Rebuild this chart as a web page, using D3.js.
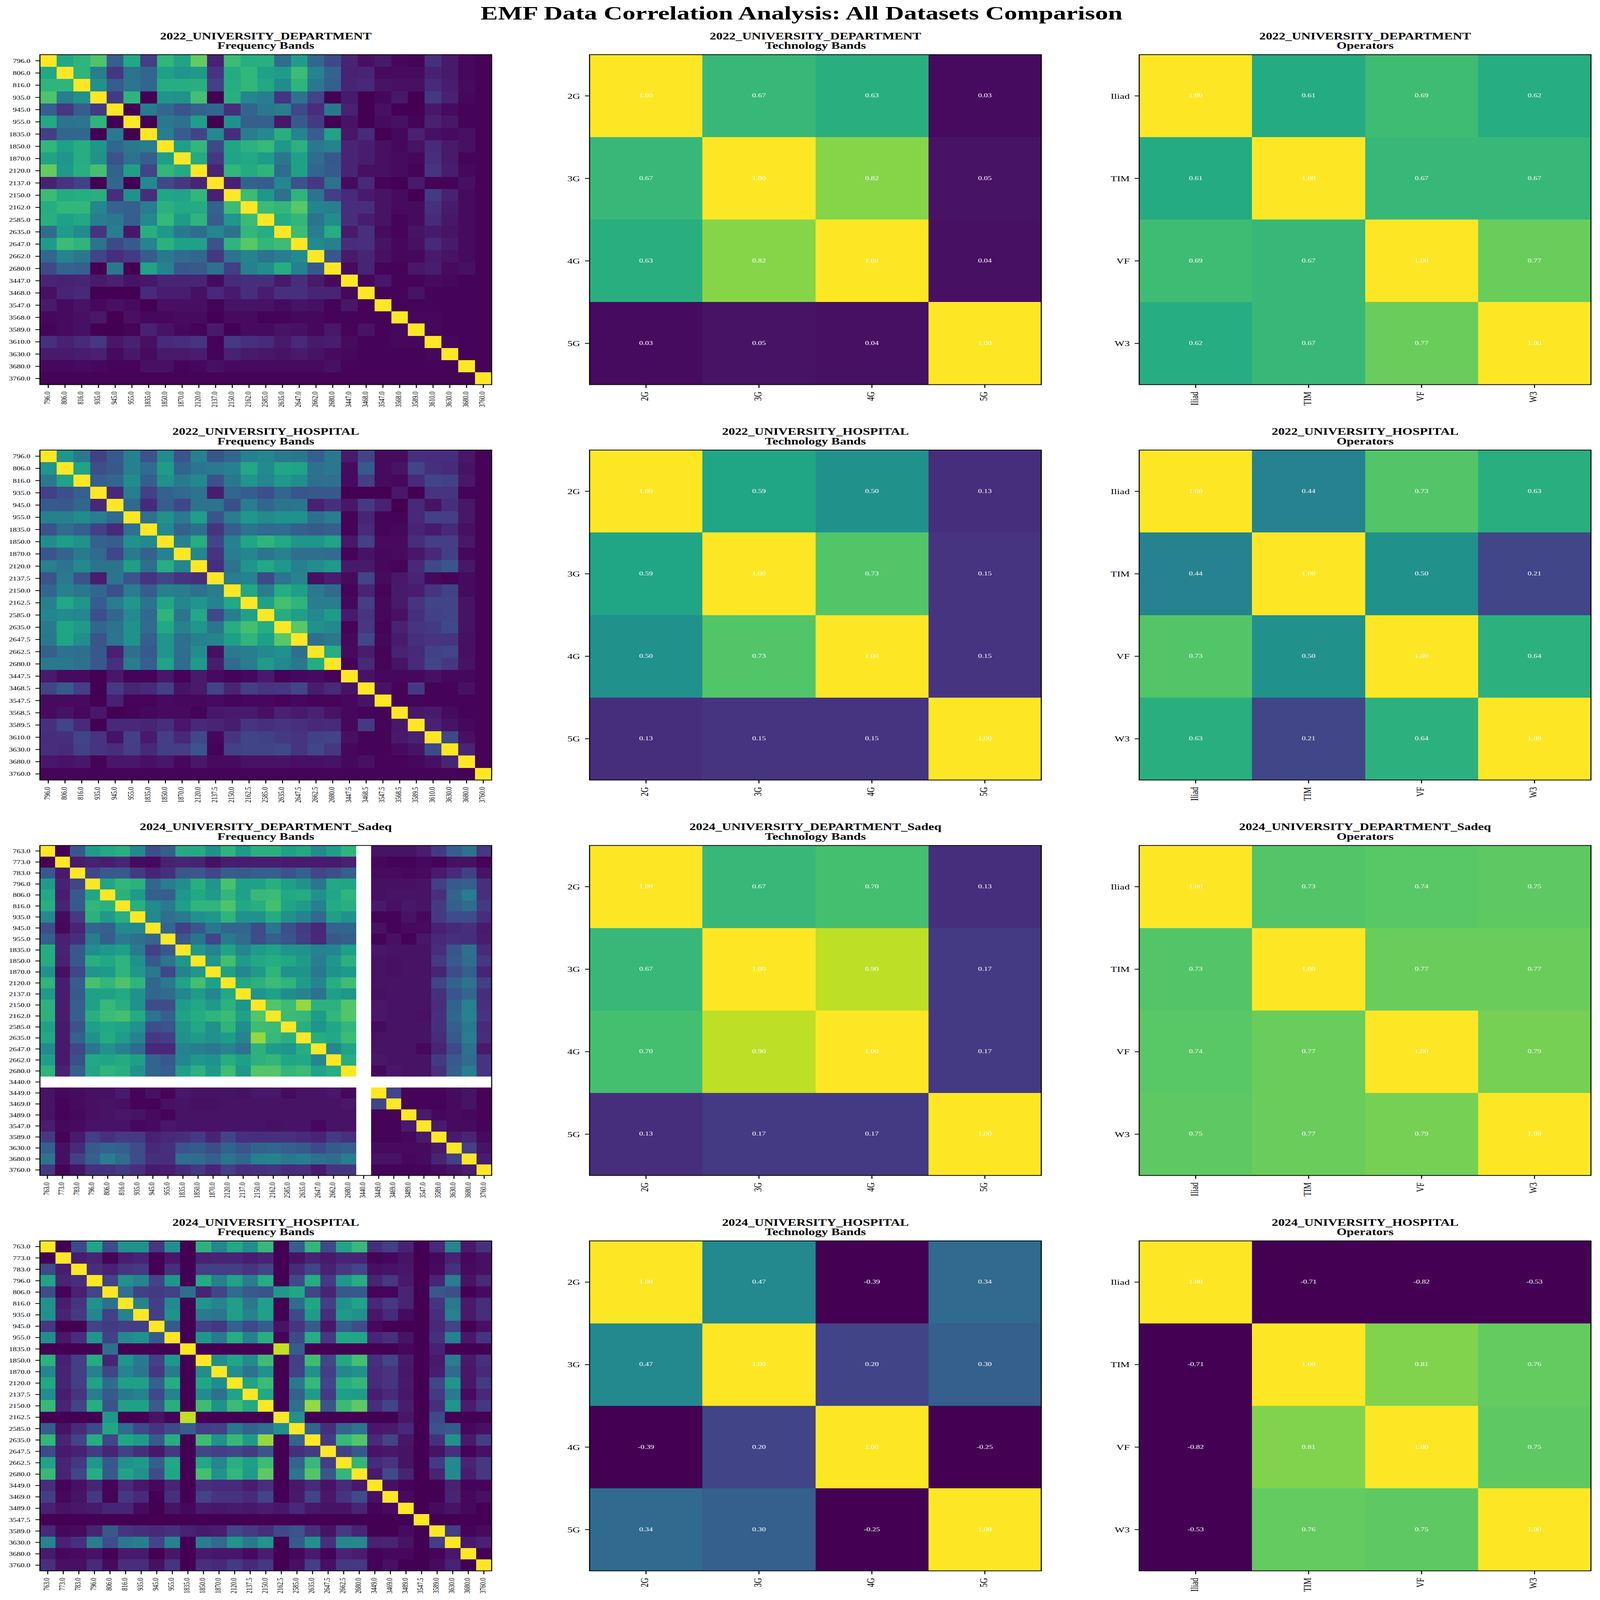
<!DOCTYPE html>
<html>
<head>
<meta charset="utf-8">
<title>EMF Data Correlation Analysis</title>
<script src="https://cdn.jsdelivr.net/npm/d3@7"></script>
<style>
  html, body { margin: 0; padding: 0; background: #fff; overflow: hidden; }
  text { font-family: "Liberation Serif", serif; }
</style>
</head>
<body>
<div id="chart"></div>
<script>
const figTitle = "EMF Data Correlation Analysis: All Datasets Comparison";
const datasets = ["2022_UNIVERSITY_DEPARTMENT", "2022_UNIVERSITY_HOSPITAL", "2024_UNIVERSITY_DEPARTMENT_Sadeq", "2024_UNIVERSITY_HOSPITAL"];
const techLabels = ["2G", "3G", "4G", "5G"];
const opLabels = ["Iliad", "TIM", "VF", "W3"];
// band with no data at all, its whole row and column stay white
const blankBands = ["3440.0"];

const freqLabels2022Dept = ["796.0","806.0","816.0","935.0","945.0","955.0","1835.0","1850.0","1870.0","2120.0","2137.0","2150.0","2162.0","2585.0","2635.0","2647.0","2662.0","2680.0","3447.0","3468.0","3547.0","3568.0","3589.0","3610.0","3630.0","3680.0","3760.0"];
const freqLabels2022Hosp = ["796.0","806.0","816.0","935.0","945.0","955.0","1835.0","1850.0","1870.0","2120.0","2137.5","2150.0","2162.5","2585.0","2635.0","2647.5","2662.5","2680.0","3447.5","3468.5","3547.5","3568.5","3589.5","3610.0","3630.0","3680.0","3760.0"];
const freqLabels2024Dept = ["763.0","773.0","783.0","796.0","806.0","816.0","935.0","945.0","955.0","1835.0","1850.0","1870.0","2120.0","2137.0","2150.0","2162.0","2585.0","2635.0","2647.0","2662.0","2680.0","3440.0","3449.0","3469.0","3489.0","3547.0","3589.0","3630.0","3680.0","3760.0"];
const freqLabels2024Hosp = ["763.0","773.0","783.0","796.0","806.0","816.0","935.0","945.0","955.0","1835.0","1850.0","1870.0","2120.0","2137.5","2150.0","2162.5","2585.0","2635.0","2647.5","2662.5","2680.0","3449.0","3469.0","3489.0","3547.5","3589.0","3630.0","3680.0","3760.0"];

// upper triangles only, each row starts right of the diagonal
const freq2022Dept = [
  [.60,.65,.72,.30,.60,.18,.66,.58,.76,.09,.68,.62,.63,.35,.55,.33,.22,.10,.04,.07,.02,.01,.14,.07,.02,.01],
  [.65,.42,.16,.38,.33,.57,.52,.54,.15,.61,.66,.57,.55,.68,.45,.32,.09,.10,.03,.03,.03,.09,.07,.02,.01],
  [.50,.29,.39,.33,.62,.62,.63,.19,.62,.66,.60,.48,.65,.40,.30,.10,.11,.05,.04,.04,.12,.08,.03,.01],
  [.17,.65,0,.52,.50,.70,0,.63,.46,.42,.15,.38,.20,0,.07,0,.02,.06,0,.16,.09,.02,.01],
  [0,.41,.33,.25,.31,.33,.13,.32,.40,.42,.22,.13,.40,.09,0,.04,0,0,.06,.03,.01,.01],
  [0,.40,.37,.56,0,.51,.30,.30,.06,.28,.17,0,.05,0,.03,.04,.01,.09,.06,.01,.01],
  [.42,.29,.20,.47,.13,.42,.47,.63,.45,.29,.58,.06,.12,0,.02,.09,.04,.03,.04,.01],
  [.56,.66,.22,.59,.64,.67,.53,.64,.40,.44,.10,.08,.04,.02,.05,.12,.07,.04,.01],
  [.61,.16,.58,.60,.55,.40,.57,.35,.27,.10,.08,.04,.03,.02,.13,.07,.01,.01],
  [.10,.66,.61,.65,.35,.57,.33,.28,.10,.04,.04,.03,.01,.15,.08,.02,.01],
  [.09,.31,.29,.46,.25,.16,.37,.03,.11,.01,0,.07,.01,.01,.04,.01],
  [.68,.53,.37,.65,.38,.18,.12,.07,.05,.03,0,.17,.09,.03,.01],
  [.68,.66,.74,.45,.43,.13,.13,.05,.03,.03,.14,.07,.03,.01],
  [.62,.66,.38,.49,.13,.08,.05,.01,.03,.12,.06,.03,.01],
  [.69,.42,.62,.07,.14,.03,.01,.05,.07,.05,.03,.01],
  [.48,.43,.13,.14,.05,.02,.04,.11,.07,.03,.01],
  [.27,.07,.10,.04,.02,.02,.07,.05,.03,.01],
  [.03,.10,.01,.01,.06,.08,.03,.04,.01],
  [.02,.06,.01,.01,.03,.02,.01,.01],
  [.01,.01,.05,.01,.01,.01,.01],
  [.01,.01,.01,.01,.01,.01],
  [.02,.02,.01,.01,.01],
  [.02,.01,.01,.01],
  [.02,.01,.01],
  [.01,.01],
  [.01]
];

const freq2022Hosp = [
  [.52,.40,.19,.28,.43,.25,.48,.26,.43,.26,.33,.43,.46,.41,.40,.30,.40,.07,.20,.03,.03,.14,.13,.13,.06,.01],
  [.58,.24,.27,.43,.35,.55,.32,.39,.41,.43,.60,.48,.59,.58,.37,.40,.03,.28,.03,.05,.20,.14,.12,.05,.01],
  [.30,.33,.48,.30,.50,.41,.47,.25,.40,.52,.46,.54,.49,.36,.37,.03,.18,.03,.02,.12,.20,.19,.06,.01],
  [.11,.42,.19,.31,.34,.38,.08,.33,.29,.24,.33,.26,.27,.27,0,0,0,.06,0,.15,.15,.01,.01],
  [.34,.12,.29,.21,.38,.38,.24,.42,.33,.38,.39,.09,.14,.06,.17,.09,0,.11,.05,.13,.06,.01],
  [.37,.50,.41,.56,.26,.42,.53,.48,.51,.50,.36,.42,.01,.10,.01,.01,.11,.19,.18,.06,.01],
  [.47,.31,.36,.15,.29,.38,.34,.35,.30,.28,.30,.01,.12,.01,.02,.10,.07,.11,.04,.01],
  [.44,.62,.21,.43,.59,.65,.60,.52,.52,.58,.06,.19,.03,.03,.13,.18,.18,.06,.01],
  [.46,.15,.42,.46,.39,.44,.36,.36,.35,.01,.05,.02,.03,.06,.11,.18,.02,.01],
  [.13,.37,.52,.60,.53,.43,.49,.54,.07,.07,.02,.01,.11,.22,.26,.06,.01],
  [.42,.44,.22,.39,.45,.04,.08,.03,.20,.03,.06,.10,.02,.01,.03,.01],
  [.60,.42,.62,.56,.41,.34,.01,.10,.01,.07,.08,.15,.19,.03,.01],
  [.57,.70,.65,.42,.42,.02,.18,.02,.07,.15,.20,.20,.05,.01],
  [.62,.56,.47,.55,.07,.15,.02,.04,.14,.19,.20,.05,.01],
  [.74,.51,.47,.01,.16,.01,.09,.15,.17,.22,.05,.01],
  [.36,.40,.02,.21,.02,.07,.14,.15,.15,.04,.01],
  [.62,.03,.08,.01,.09,.11,.19,.21,.04,.01],
  [.01,.11,.01,.05,.12,.20,.16,.05,.01],
  [.05,.02,.02,.02,.04,.02,.02,.01],
  [.05,.01,.17,.01,.01,.04,.01],
  [.01,.01,.01,.01,.01,.01],
  [.06,.07,.03,.01,.01],
  [.09,.05,.02,.01],
  [.22,.04,.01],
  [.10,.01],
  [.01]
];

const freq2024Dept = [
  [0,.27,.55,.60,.63,.47,.24,.30,.61,.61,.50,.65,.54,.64,.64,.57,.60,.48,.56,.65,null,.05,.05,.05,.08,.17,.30,.38,.16],
  [.07,.09,.08,.10,.03,.02,.09,.10,.09,.04,.08,.08,.08,.08,.07,.07,.07,.07,.09,null,.02,.01,.01,.02,.01,.04,.04,.01],
  [.21,.28,.28,.17,.10,.13,.27,.27,.21,.29,.28,.30,.30,.25,.31,.21,.24,.30,null,.03,.03,.02,.03,.07,.12,.19,.05],
  [.59,.66,.64,.33,.42,.49,.63,.52,.71,.57,.57,.63,.56,.50,.39,.60,.59,null,.04,.04,.04,.05,.18,.28,.30,.14],
  [.64,.54,.30,.29,.53,.60,.54,.66,.57,.67,.68,.60,.61,.50,.59,.65,null,.04,.05,.05,.05,.14,.32,.42,.14],
  [.63,.48,.41,.56,.65,.65,.72,.60,.63,.70,.58,.55,.43,.61,.63,null,.07,.04,.06,.05,.17,.30,.35,.17],
  [.47,.36,.41,.50,.53,.65,.51,.51,.61,.50,.44,.34,.56,.51,null,.01,.01,.05,.02,.17,.23,.23,.13],
  [.33,.19,.27,.40,.33,.33,.23,.39,.24,.17,.11,.32,.32,null,.04,.01,.03,.03,.09,.11,.14,.07],
  [.27,.39,.21,.41,.35,.23,.30,.26,.18,.11,.27,.29,null,.01,.04,.01,.06,.11,.14,.13,.08],
  [.53,.44,.58,.46,.55,.58,.52,.51,.44,.46,.56,null,.06,.05,.05,.05,.13,.26,.36,.12],
  [.53,.70,.55,.60,.62,.60,.54,.42,.53,.64,null,.05,.04,.05,.05,.17,.28,.35,.16],
  [.57,.46,.54,.65,.50,.51,.40,.51,.54,null,.05,.04,.05,.05,.10,.23,.30,.10],
  [.60,.64,.68,.65,.55,.45,.62,.69,null,.05,.05,.05,.05,.20,.31,.38,.18],
  [.52,.57,.49,.45,.37,.56,.53,null,.04,.05,.05,.05,.14,.26,.33,.13],
  [.73,.69,.84,.64,.64,.73,null,.06,.05,.05,.05,.13,.31,.43,.14],
  [.68,.67,.55,.66,.73,null,.06,.05,.05,.04,.14,.33,.44,.15],
  [.63,.52,.59,.66,null,.03,.05,.05,.05,.14,.30,.40,.12],
  [.62,.60,.68,null,.05,.05,.05,.05,.12,.28,.42,.13],
  [.46,.58,null,.05,.05,.05,.02,.10,.22,.37,.07],
  [.62,null,.06,.05,.05,.05,.17,.28,.35,.15],
  [null,.02,.06,.05,.05,.14,.30,.42,.15],
  [null,null,null,null,null,null,null,null],
  [.21,.01,.01,.01,.03,.05,.01],
  [.01,.01,.01,.03,.05,.01],
  [.07,.02,.03,.02,.01],
  [.07,.03,.03,.01],
  [.07,.10,.03],
  [.19,.05],
  [.08]
];

const freq2024Hosp = [
  [0,.22,.58,.23,.50,.51,.16,.49,0,.64,.46,.60,.49,.67,0,.29,.66,.22,.58,.67,.13,.18,.09,0,.11,.45,.07,.14],
  [.08,.10,.01,.08,.10,0,.06,0,.09,.10,.10,.08,.10,0,.05,.10,.07,.10,.10,.01,.02,.05,0,.02,.09,.02,.04],
  [.13,.09,.15,.17,0,.13,0,.18,.18,.18,.15,.20,0,.12,.20,.09,.16,.21,.04,.05,.06,0,.03,.14,.03,.04],
  [.20,.50,.45,.20,.52,0,.61,.43,.58,.42,.62,0,.22,.62,.17,.53,.62,.10,.16,.07,0,.10,.42,.05,.12],
  [.36,.19,.17,.19,.36,.10,.20,.35,.28,.25,.53,.59,.21,.10,.27,.28,.01,.01,.10,0,.27,.24,0,.03],
  [.44,.18,.47,0,.52,.45,.56,.40,.57,0,.35,.59,.19,.50,.58,.11,.16,.10,0,.15,.40,.07,.13],
  [.18,.51,0,.41,.39,.56,.44,.57,0,.22,.55,.13,.54,.50,.06,.12,.03,0,.13,.43,.07,.13],
  [.28,0,.19,.16,.31,.22,.29,.05,.15,.28,.06,.30,.23,.02,0,0,0,.11,.20,0,.04],
  [0,.53,.41,.62,.44,.63,.01,.22,.62,.16,.60,.59,.10,.14,.05,0,.14,.44,.06,.15],
  [0,0,0,0,0,.91,.29,0,0,0,0,0,0,.02,0,.09,0,0,0],
  [.49,.59,.48,.69,0,.18,.69,.21,.60,.70,.14,.20,.07,0,.07,.42,.07,.14],
  [.49,.37,.51,0,.19,.50,.18,.46,.50,.12,.15,.06,0,.08,.34,.06,.11],
  [.58,.68,0,.40,.67,.21,.63,.66,.12,.15,.07,0,.21,.52,.06,.17],
  [.60,0,.31,.55,.17,.56,.55,.08,.12,.06,0,.17,.41,.03,.11],
  [0,.36,.84,.26,.68,.75,.13,.20,.08,0,.13,.52,.08,.16],
  [.50,0,0,0,0,0,0,.06,0,.22,0,0,0],
  [.32,.13,.32,.39,.06,.07,.11,0,.25,.28,.02,.04],
  [.17,.67,.73,.12,.20,.06,0,.14,.50,.07,.18],
  [.18,.27,.05,.06,.05,0,.05,.14,.01,.04],
  [.66,.12,.15,.05,0,.17,.47,.10,.16],
  [.07,.23,.10,0,.10,.47,.08,.16],
  [.04,.01,0,0,.09,.01,.01],
  [.03,0,0,.10,.02,.04],
  [0,.03,.05,.02,0],
  [0,0,0,0],
  [.18,.01,.03],
  [.06,.09],
  [0]
];

// pairs in order 12 13 14 23 24 34
const tech2022Dept = [[.67,.63,.03],[.82,.05],[.04]];
const tech2022Hosp = [[.59,.50,.13],[.73,.15],[.15]];
const tech2024Dept = [[.67,.70,.13],[.90,.17],[.17]];
const tech2024Hosp = [[.47,-.39,.34],[.20,.30],[-.25]];
const op2022Dept = [[.61,.69,.62],[.67,.67],[.77]];
const op2022Hosp = [[.44,.73,.63],[.50,.21],[.64]];
const op2024Dept = [[.73,.74,.75],[.77,.77],[.79]];
const op2024Hosp = [[-.71,-.82,-.53],[.81,.76],[.75]];

const freqSets = [
  [freqLabels2022Dept, freq2022Dept],
  [freqLabels2022Hosp, freq2022Hosp],
  [freqLabels2024Dept, freq2024Dept],
  [freqLabels2024Hosp, freq2024Hosp]
];
const techSets = [tech2022Dept, tech2022Hosp, tech2024Dept, tech2024Hosp];
const opSets = [op2022Dept, op2022Hosp, op2024Dept, op2024Hosp];

const width = 5132, height = 7026;
const size = 1449;
const colX = [128, 1891, 3654];
const rowY = [240, 1976.3, 3712.7, 5449];
const lw = 3.33, tickLen = 14.6, tickPad = 16;

const color = d3.scaleSequential(d3.interpolateViridis).domain([0, 1]).clamp(true);

// fill the window whatever size it turns out to be
const svg = d3.select("#chart").append("svg")
  .attr("viewBox", `0 0 ${width} ${height}`)
  .attr("preserveAspectRatio", "none")
  .style("width", "100vw")
  .style("height", "100vh")
  .style("display", "block");

svg.append("text")
  .attr("x", 2571)
  .attr("y", 86)
  .attr("text-anchor", "middle")
  .attr("font-size", 83.3)
  .attr("font-weight", "bold")
  .text(figTitle);

// turn an upper triangle into a list of cells
function toCells(upper, labels) {
  const n = labels.length;
  const cells = [];
  for (let i = 0; i < n; i++) {
    if (!blankBands.includes(labels[i])) cells.push({ r: i, c: i, v: 1 });
    for (let j = i + 1; j < n; j++) {
      const v = upper[i][j - i - 1];
      cells.push({ r: i, c: j, v: v }, { r: j, c: i, v: v });
    }
  }
  return cells.filter(d => d.v !== null && d.v !== undefined);
}

function drawHeatmap(left, top, labels, upper, name, sub, tickSize, annotate) {
  const g = svg.append("g").attr("transform", `translate(${left},${top})`);
  const idx = labels.map((d, i) => i);
  const x = d3.scaleBand().domain(idx).range([0, size]);
  const y = d3.scaleBand().domain(idx).range([0, size]);
  const cells = toCells(upper, labels);

  g.selectAll(".cell")
    .data(cells)
    .enter()
    .append("rect")
    .attr("class", "cell")
    .attr("x", d => x(d.c))
    .attr("y", d => y(d.r))
    .attr("width", x.bandwidth())
    .attr("height", y.bandwidth())
    .attr("shape-rendering", "crispEdges")
    .attr("fill", d => color(d.v));

  if (annotate) {
    g.selectAll(".val")
      .data(cells)
      .enter()
      .append("text")
      .attr("class", "val")
      .attr("x", d => x(d.c) + x.bandwidth() / 2)
      .attr("y", d => y(d.r) + y.bandwidth() / 2)
      .attr("dy", "0.27em")
      .attr("text-anchor", "middle")
      .attr("font-size", 25)
      .attr("fill", "#fff")
      .text(d => d.v.toFixed(2));
  }

  const yAxis = g.append("g")
    .call(d3.axisLeft(y).tickSize(tickLen).tickPadding(tickPad).tickFormat(i => labels[i]));
  const xAxis = g.append("g")
    .attr("transform", `translate(0,${size})`)
    .call(d3.axisBottom(x).tickSize(tickLen).tickPadding(tickPad).tickFormat(i => labels[i]));
  yAxis.select(".domain").remove();
  xAxis.select(".domain").remove();
  yAxis.selectAll("text")
    .attr("font-size", tickSize)
    .attr("font-family", "Liberation Serif")
    .attr("dy", "0.36em");
  xAxis.selectAll("text")
    .attr("font-size", tickSize)
    .attr("font-family", "Liberation Serif")
    .attr("transform", "rotate(-90)")
    .attr("text-anchor", "end")
    .attr("x", -(tickLen + tickPad))
    .attr("y", 0)
    .attr("dy", "0.21em");
  g.selectAll(".tick line").attr("stroke-width", lw);

  g.append("rect")
    .attr("width", size)
    .attr("height", size)
    .attr("fill", "none")
    .attr("stroke", "#000")
    .attr("stroke-width", lw);

  g.append("text")
    .attr("x", size / 2)
    .attr("y", -67)
    .attr("text-anchor", "middle")
    .attr("font-size", 41.7)
    .attr("font-weight", "bold")
    .text(name);
  g.append("text")
    .attr("x", size / 2)
    .attr("y", -25)
    .attr("text-anchor", "middle")
    .attr("font-size", 41.7)
    .attr("font-weight", "bold")
    .text(sub);
}

datasets.forEach((name, i) => {
  drawHeatmap(colX[0], rowY[i], freqSets[i][0], freqSets[i][1], name, "Frequency Bands", 25, false);
  drawHeatmap(colX[1], rowY[i], techLabels, techSets[i], name, "Technology Bands", 33.3, true);
  drawHeatmap(colX[2], rowY[i], opLabels, opSets[i], name, "Operators", 33.3, true);
});
</script>
</body>
</html>
